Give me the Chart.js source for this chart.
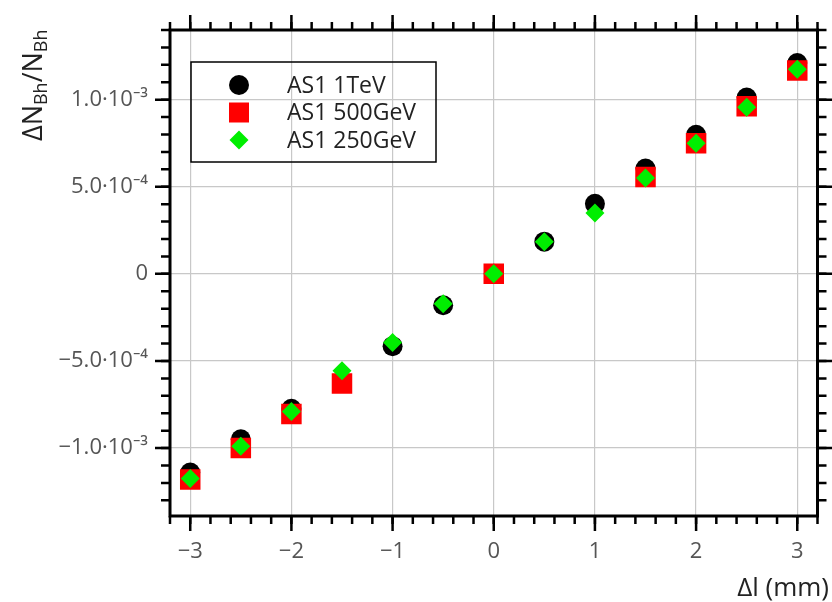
<!DOCTYPE html>
<html>
<head>
<meta charset="utf-8">
<script src="https://cdn.jsdelivr.net/npm/chart.js@4.4.0/dist/chart.umd.min.js"></script>
<style>
  html, body { margin: 0; padding: 0; background: #fff; }
</style>
</head>
<body>
<canvas id="scatter" width="832" height="602"></canvas>
<script>
// shift of the length, mm
var shifts = [-3, -2.5, -2, -1.5, -1, -0.5, 0, 0.5, 1, 1.5, 2, 2.5, 3];
// relative change of N_Bh per sample
var as1_1TeV   = [-1.14e-3, -0.95e-3, -0.775e-3, null, -0.415e-3, -0.18e-3, 0, 0.185e-3, 0.402e-3, 0.605e-3, 0.798e-3, 1.012e-3, 1.21e-3];
var as1_500GeV = [-1.18e-3, -1.0e-3, -0.805e-3, -0.63e-3, null, null, 0, null, null, 0.556e-3, 0.75e-3, 0.962e-3, 1.168e-3];
var as1_250GeV = [-1.175e-3, -0.99e-3, -0.79e-3, -0.556e-3, -0.394e-3, -0.172e-3, 0, 0.185e-3, 0.35e-3, 0.55e-3, 0.75e-3, 0.957e-3, 1.175e-3];

var xTicks = [-3, -2, -1, 0, 1, 2, 3];
var xTickLabels = ["−3", "−2", "−1", "0", "1", "2", "3"];
var yTicks = [-1e-3, -5e-4, 0, 5e-4, 1e-3];
var yTickLabels = ["−1.0·10⁻³", "−5.0·10⁻⁴", "0", "5.0·10⁻⁴", "1.0·10⁻³"];

var FONT = '"Open Sans", "Noto Sans", sans-serif';

function toPoints(values) {
    var pts = [];
    for (var i = 0; i < shifts.length; i++) {
        if (values[i] !== null) pts.push({ x: shifts[i], y: values[i] });
    }
    return pts;
}

// frame, minor/major ticks on all four sides, legend box and axis titles
var framePlugin = {
    id: "frame",
    afterDraw: function (chart) {
        var ctx = chart.ctx, a = chart.chartArea;
        var xs = chart.scales.x, ys = chart.scales.y;
        ctx.save();
        ctx.strokeStyle = "#000";
        ctx.lineWidth = 2.5;
        ctx.lineCap = "butt";

        function marks(scale, step, len) {
            var k0 = Math.ceil(scale.min / step - 1e-6), k1 = Math.floor(scale.max / step + 1e-6);
            for (var k = k0; k <= k1; k++) {
                var p = scale.getPixelForValue(k * step);
                ctx.beginPath();
                if (scale.isHorizontal()) {
                    ctx.moveTo(p, a.bottom); ctx.lineTo(p, a.bottom + len);
                    ctx.moveTo(p, a.top); ctx.lineTo(p, a.top - len);
                } else {
                    ctx.moveTo(a.left, p); ctx.lineTo(a.left - len, p);
                    ctx.moveTo(a.right, p); ctx.lineTo(a.right + len, p);
                }
                ctx.stroke();
            }
        }
        marks(xs, 0.2, 8);
        marks(xs, 1, 15);
        marks(ys, 1e-4, 9);
        marks(ys, 5e-4, 15);

        ctx.lineWidth = 3;
        ctx.strokeRect(a.left, a.top, a.right - a.left, a.bottom - a.top);

        // legend
        var lx = 191, ly = 62, lw = 245, lh = 100;
        ctx.lineWidth = 1.5;
        ctx.strokeRect(lx, ly, lw, lh);
        ctx.font = "23px " + FONT;
        ctx.textBaseline = "middle";
        ctx.textAlign = "left";
        chart.data.datasets.forEach(function (ds, i) {
            var cy = ly + 23 + i * 27.5, cx = lx + 48;
            ctx.fillStyle = ds.backgroundColor;
            ctx.beginPath();
            if (ds.pointStyle === "circle") {
                ctx.arc(cx, cy, 10, 0, Math.PI * 2);
            } else if (ds.pointStyle === "rect") {
                ctx.rect(cx - 10, cy - 10, 20, 20);
            } else {
                ctx.moveTo(cx, cy - 9.5); ctx.lineTo(cx + 9.5, cy);
                ctx.lineTo(cx, cy + 9.5); ctx.lineTo(cx - 9.5, cy);
                ctx.closePath();
            }
            ctx.fill();
            ctx.fillStyle = "#222";
            ctx.fillText(ds.label, lx + 96, cy + 1);
        });

        // x title, right aligned under the axis
        ctx.font = "26px " + FONT;
        ctx.textAlign = "right";
        ctx.textBaseline = "alphabetic";
        ctx.fillText("Δl (mm)", 829, 596);

        // y title with subscripts
        ctx.textAlign = "left";
        ctx.translate(42, 141);
        ctx.rotate(-Math.PI / 2);
        var parts = [["ΔN", 27, 0], ["Bh", 18, 5], ["/N", 27, 0], ["Bh", 18, 5]];
        var px = 0;
        parts.forEach(function (p) {
            ctx.font = p[1] + "px " + FONT;
            ctx.fillText(p[0], px, p[2]);
            px += ctx.measureText(p[0]).width;
        });
        ctx.restore();
    }
};

var ctx1 = document.getElementById("scatter").getContext("2d");
var myChart = new Chart(ctx1, {
    type: "scatter",
    data: {
        datasets: [
            {
                label: "AS1 1TeV",
                data: toPoints(as1_1TeV),
                pointStyle: "circle",
                backgroundColor: "#000000",
                borderColor: "#000000",
                pointRadius: 10,
                pointBorderWidth: 0,
                order: 3,
            },
            {
                label: "AS1 500GeV",
                data: toPoints(as1_500GeV),
                pointStyle: "rect",
                backgroundColor: "#ff0000",
                borderColor: "#ff0000",
                pointRadius: 14.5,
                pointBorderWidth: 0,
                order: 2,
            },
            {
                label: "AS1 250GeV",
                data: toPoints(as1_250GeV),
                pointStyle: "rectRot",
                backgroundColor: "#00ee00",
                borderColor: "#00ee00",
                pointRadius: 9.5,
                pointBorderWidth: 0,
                order: 1,
            },
        ],
    },
    options: {
        responsive: false,
        animation: false,
        layout: { padding: { top: 30, right: 13, left: 0, bottom: 0 } },
        plugins: {
            legend: { display: false },
            tooltip: { enabled: false },
        },
        scales: {
            x: {
                type: "linear",
                min: -3.2,
                max: 3.2,
                afterBuildTicks: function (s) {
                    s.ticks = xTicks.map(function (v) { return { value: v }; });
                },
                afterFit: function (s) { s.height = 86; },
                ticks: {
                    callback: function (v, i) { return xTickLabels[i]; },
                    color: "#555",
                    font: { family: FONT, size: 22 },
                    padding: 23,
                    maxRotation: 0,
                    autoSkip: false,
                },
                grid: { color: "#c8c8c8", lineWidth: 1.2, drawTicks: false },
                border: { display: false },
            },
            y: {
                type: "linear",
                min: -1.39e-3,
                max: 1.4e-3,
                afterBuildTicks: function (s) {
                    s.ticks = yTicks.map(function (v) { return { value: v }; });
                },
                afterFit: function (s) {
                    s.width = 170;
                    s.paddingTop = 0;
                    s.paddingBottom = 0;
                },
                ticks: {
                    callback: function (v, i) { return yTickLabels[i]; },
                    color: "#555",
                    font: { family: FONT, size: 22 },
                    padding: 22,
                    autoSkip: false,
                },
                grid: { color: "#c8c8c8", lineWidth: 1.2, drawTicks: false },
                border: { display: false },
            },
        },
    },
    plugins: [framePlugin],
});
</script>
</body>
</html>
